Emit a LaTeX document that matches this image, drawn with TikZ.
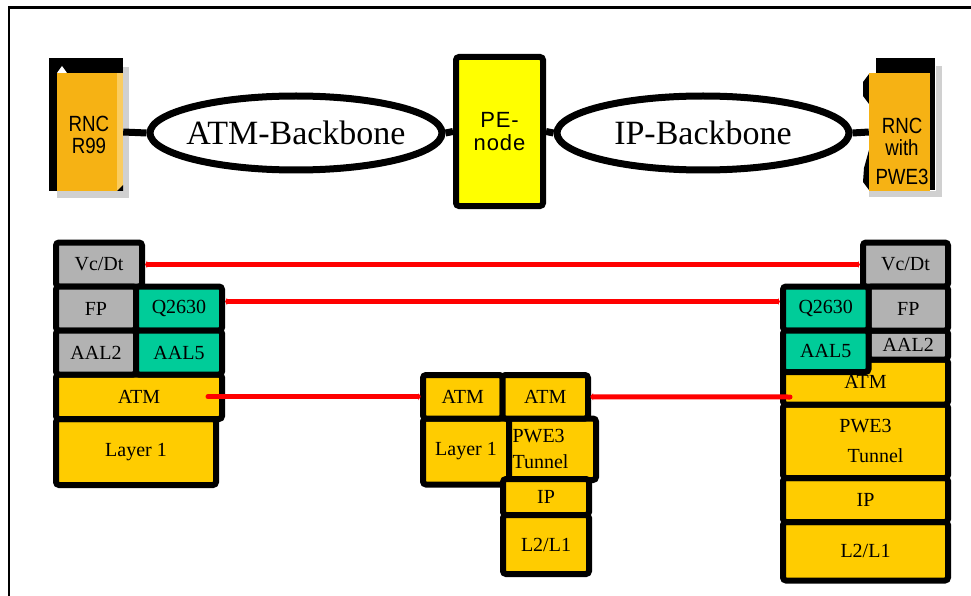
\documentclass[tikz,border=0pt]{standalone}
\usepackage{fontspec}
\setmainfont{Liberation Serif}
\newfontfamily\rncfont[FakeStretch=0.85]{Liberation Sans}
\newfontfamily\pefont[LetterSpace=4]{Liberation Sans}
\usetikzlibrary{arrows.meta, shapes.geometric}

\definecolor{cellgrey}{RGB}{178,178,178}
\definecolor{cellteal}{RGB}{0,204,153}
\definecolor{cellamber}{RGB}{255,204,0}
\definecolor{peyellow}{RGB}{255,255,0}
\definecolor{rncorange}{RGB}{246,178,20}
\definecolor{rncpale}{RGB}{250,204,96}
\definecolor{shadowgrey}{RGB}{208,208,208}

\begin{document}
\begin{tikzpicture}[x=1pt, y=-1pt,
    cell/.style={draw, line width=6pt, rounded corners=3pt, inner sep=0pt, font=\fontsize{20}{22}\selectfont},
    greycell/.style={cell, fill=cellgrey},
    tealcell/.style={cell, fill=cellteal},
    ambercell/.style={cell, fill=cellamber},
    backbone/.style={ellipse, draw, line width=7pt, fill=white, minimum width=292pt, minimum height=74pt, inner sep=0pt},
    bbtext/.style={font=\fontsize{34}{36}\selectfont},
    rncbox/.style={fill=rncorange, minimum height=118pt, inner sep=0pt},
    rnctext/.style={align=center, font=\rncfont\fontsize{22}{22}\selectfont},
    wire/.style={line width=7pt},
    redlink/.style={red, line width=5pt, {Latex[length=2pt, width=8pt]}-{Latex[length=2pt, width=8pt]}},
    atmlink/.style={red, line width=5pt, line cap=round}
]
    \useasboundingbox (0, 0) rectangle (971, 596);
    \draw[line width=2.5pt] (9, 596) -- (9, 7.5) -- (971, 7.5);

    % top row
    \fill (49, 58) rectangle (123, 73);
    \fill (49, 65) rectangle (57, 191);
    \fill[shadowgrey] (57, 191) rectangle (129, 198);
    \fill[shadowgrey] (123, 67) rectangle (129, 198);
    \node[rncbox, minimum width=66pt] (rncL) at (90, 132) {};
    \fill[rncpale] (117, 73) rectangle (123, 191);
    \fill[white] (57, 73) -- (62, 66) -- (67, 73) -- cycle;
    \fill (117, 191) -- (123, 185) -- (123, 191) -- cycle;
    \node[rnctext] (rncLtxt) at (89, 135) {RNC\\R99};

    \fill (876, 58) rectangle (935, 73);
    \fill (930, 73) rectangle (935, 190);
    \fill (869, 74) -- (863, 82) -- (863, 96) -- (869, 104) -- cycle;
    \fill (869, 150) -- (864, 168) -- (863, 182) -- (869, 190) -- cycle;
    \fill[shadowgrey] (936, 66) rectangle (942, 197);
    \fill[shadowgrey] (869, 191) rectangle (942, 197);
    \node[rncbox, minimum width=61pt] (rncR) at (899.5, 132) {};
    \node[rnctext] (rncRtxt) at (902, 151) {RNC\\with\\[7pt]PWE3};

    \node[backbone] (atmBB) at (296, 133) {};
    \node[bbtext] (atmBBtxt) at (296, 133) {ATM-Backbone};
    \node[backbone] (ipBB) at (703, 133) {};
    \node[bbtext] (ipBBtxt) at (703, 133) {IP-Backbone};
    \node[draw, line width=6pt, rounded corners=3pt, fill=peyellow, minimum width=87pt, minimum height=149pt, align=center, font=\pefont\fontsize{22}{23}\selectfont] (pe) at (499.5, 131.5) {PE-\\node};

    \draw[wire] (rncL.east) -- (atmBB.west);
    \draw[wire] (atmBB.east) -- (pe.west);
    \draw[wire] (pe.east) -- (ipBB.west);
    \draw[wire] (ipBB.east) -- (rncR.west);

    % left stack
    \node[greycell, minimum width=86pt, minimum height=44pt] (lVc) at (99, 264.5) {Vc/Dt};
    \node[ambercell, minimum width=160pt, minimum height=66pt] (lL1) at (136, 452) {Layer 1};
    \node[ambercell, minimum width=166pt, minimum height=44.5pt] (lATM) at (139, 396.75) {ATM};
    \node[greycell, minimum width=80pt, minimum height=44pt] (lFP) at (96, 308.5) {FP};
    \node[tealcell, minimum width=86pt, minimum height=44pt] (lQ) at (179, 308.5) {Q2630};
    \node[greycell, minimum width=80pt, minimum height=44pt] (lAAL2) at (96, 352.5) {AAL2};
    \node[tealcell, minimum width=86pt, minimum height=44pt] (lAAL5) at (179, 352.5) {AAL5};

    % middle stack
    \node[ambercell, minimum width=86pt, minimum height=66pt] (mL1) at (466, 451.5) {Layer 1};
    \node[ambercell, minimum width=87pt, minimum height=61.5pt, text width=80pt, align=left] (mPWE) at (552.5, 449.25) {PWE3\\[4pt]Tunnel};
    \node[ambercell, minimum width=79.5pt, minimum height=43.5pt] (mATM1) at (462.75, 396.75) {ATM};
    \node[ambercell, minimum width=85.5pt, minimum height=43.5pt] (mATM2) at (545.25, 396.75) {ATM};
    \node[ambercell, minimum width=86pt, minimum height=36pt] (mIP) at (546, 497) {IP};
    \node[ambercell, minimum width=86pt, minimum height=59pt] (mL2) at (546, 544.5) {L2/L1};

    % right stack
    \node[greycell, minimum width=85pt, minimum height=44pt] (rVc) at (905.5, 264.5) {Vc/Dt};
    \node[ambercell, minimum width=165pt, minimum height=58.5pt] (rL2) at (865.5, 551.25) {L2/L1};
    \node[ambercell, minimum width=165pt, minimum height=44pt] (rIP) at (865.5, 500) {IP};
    \node[ambercell, minimum width=165pt, minimum height=73.5pt, align=center] (rPWE) at (865.5, 441.25) {PWE3\\[8pt]\quad Tunnel};
    \node[ambercell, minimum width=165pt, minimum height=45pt] (rATM) at (865.5, 382) {ATM};
    \node[greycell, minimum width=79.5pt, minimum height=29pt] (rAAL2) at (908.25, 345) {AAL2};
    \node[greycell, minimum width=79.5pt, minimum height=44pt] (rFP) at (908.25, 308.5) {FP};
    \node[tealcell, minimum width=85.5pt, minimum height=44pt] (rQ) at (825.75, 308.5) {Q2630};
    \node[tealcell, minimum width=85.5pt, minimum height=41.5pt] (rAAL5) at (825.75, 351.25) {AAL5};

    \draw[redlink] (lVc.east) -- (rVc.west);
    \draw[redlink] ([yshift=7pt]lQ.east) -- ([yshift=7pt]rQ.west);
    \draw[atmlink, -{Latex[length=2pt, width=8pt]}] ([xshift=-17pt]lATM.east) -- (mATM1.west);
    \draw[atmlink, {Latex[length=2pt, width=8pt]}-] (mATM2.east) -- ([xshift=10pt, yshift=-15pt]rATM.west);
\end{tikzpicture}
\end{document}
